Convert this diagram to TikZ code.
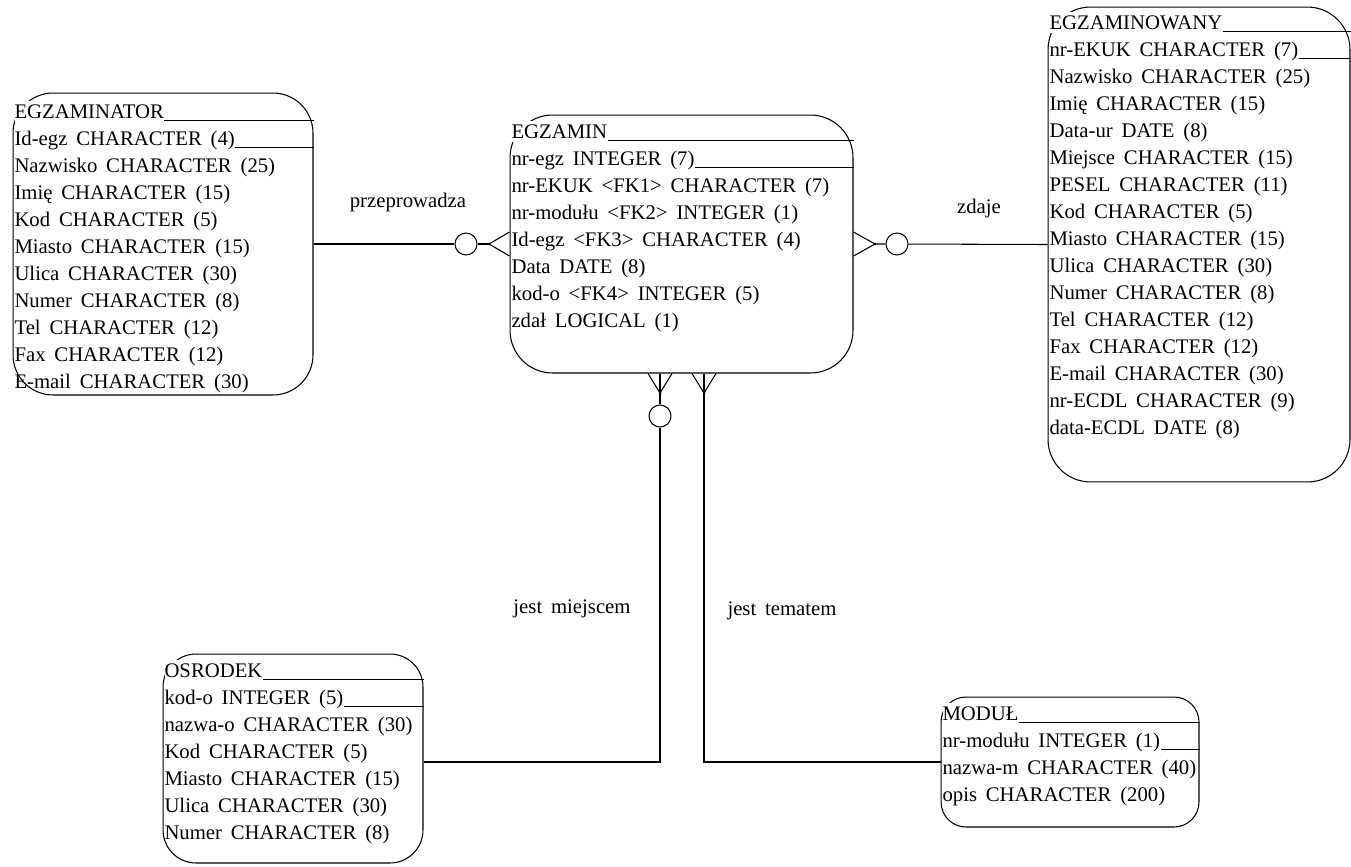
\documentclass[tikz,border=0pt]{standalone}
\usepackage{fontspec}
\setmainfont[WordSpace=1.7]{Liberation Serif}

\begin{document}
\begin{tikzpicture}[x=0.02cm, y=-0.02cm, line width=0.6pt,
    encja/.style={draw, rounded corners=0.8cm, inner sep=0},
    pole/.style={anchor=base west, inner sep=0, font=\fontsize{11.8}{14}\selectfont},
    naglowek/.style={pole, fill=white, inner ysep=2pt},
    kolko/.style={draw, circle, fill=white, inner sep=0, minimum size=0.44cm},
    etykieta/.style={inner sep=0, font=\fontsize{11.8}{14}\selectfont}]
    \useasboundingbox (0,0) rectangle (1351,866);

    \node[encja, minimum width=6cm, minimum height=6.04cm] (egzaminator) at (163,244) {};
    \node[naglowek] (tor0) at (14,118) {EGZAMINATOR};
    \foreach \t [count=\i] in {Id-egz CHARACTER (4), Nazwisko CHARACTER (25), Imię CHARACTER (15), Kod CHARACTER (5), Miasto CHARACTER (15), Ulica CHARACTER (30), Numer CHARACTER (8), Tel CHARACTER (12), Fax CHARACTER (12), E-mail CHARACTER (30)}
        \node[pole] (tor\i) at (14,{118+27*\i}) {\t};
    \draw ([yshift=-0.05cm]tor0.base east) -- ([yshift=-0.05cm]tor0.base east -| egzaminator.east);
    \draw ([yshift=-0.05cm]tor1.base east) -- ([yshift=-0.05cm]tor1.base east -| egzaminator.east);

    \node[encja, rounded corners=0.85cm, minimum width=6.86cm, minimum height=5.16cm] (egzamin) at (681.5,244) {};
    \node[naglowek] (min0) at (511,138) {EGZAMIN};
    \foreach \t [count=\i] in {nr-egz INTEGER (7), nr-EKUK <FK1> CHARACTER (7), nr-modułu <FK2> INTEGER (1), Id-egz <FK3> CHARACTER (4), Data DATE (8), kod-o <FK4> INTEGER (5), zdał LOGICAL (1)}
        \node[pole] (min\i) at (511,{138+27*\i}) {\t};
    \draw ([yshift=-0.05cm]min0.base east) -- ([yshift=-0.05cm]min0.base east -| egzamin.east);
    \draw ([yshift=-0.05cm]min1.base east) -- ([yshift=-0.05cm]min1.base east -| egzamin.east);

    \node[encja, rounded corners=0.85cm, minimum width=6.04cm, minimum height=9.5cm] (egzaminowany) at (1199,244.5) {};
    \node[naglowek] (wany0) at (1049,29) {EGZAMINOWANY};
    \foreach \t [count=\i] in {nr-EKUK CHARACTER (7), Nazwisko CHARACTER (25), Imię CHARACTER (15), Data-ur DATE (8), Miejsce CHARACTER (15), PESEL CHARACTER (11), Kod CHARACTER (5), Miasto CHARACTER (15), Ulica CHARACTER (30), Numer CHARACTER (8), Tel CHARACTER (12), Fax CHARACTER (12), E-mail CHARACTER (30), nr-ECDL CHARACTER (9), data-ECDL DATE (8)}
        \node[pole] (wany\i) at (1049,{29+27*\i}) {\t};
    \draw ([yshift=-0.05cm]wany0.base east) -- ([yshift=-0.05cm]wany0.base east -| egzaminowany.east);
    \draw ([yshift=-0.05cm]wany1.base east) -- ([yshift=-0.05cm]wany1.base east -| egzaminowany.east);

    \node[encja, rounded corners=0.66cm, minimum width=5.2cm, minimum height=4.18cm] (osrodek) at (293,758.5) {};
    \node[naglowek] (osr0) at (164,677) {OSRODEK};
    \foreach \t [count=\i] in {kod-o INTEGER (5), nazwa-o CHARACTER (30), Kod CHARACTER (5), Miasto CHARACTER (15), Ulica CHARACTER (30), Numer CHARACTER (8)}
        \node[pole] (osr\i) at (164,{677+27*\i}) {\t};
    \draw ([yshift=-0.05cm]osr0.base east) -- ([yshift=-0.05cm]osr0.base east -| osrodek.east);
    \draw ([yshift=-0.05cm]osr1.base east) -- ([yshift=-0.05cm]osr1.base east -| osrodek.east);

    \node[encja, rounded corners=0.5cm, minimum width=5.16cm, minimum height=2.6cm] (modul) at (1070,762) {};
    \node[naglowek] (mod0) at (942,720) {MODUŁ};
    \foreach \t [count=\i] in {nr-modułu INTEGER (1), nazwa-m CHARACTER (40), opis CHARACTER (200)}
        \node[pole] (mod\i) at (942,{720+27*\i}) {\t};
    \draw ([yshift=-0.05cm]mod0.base east) -- ([yshift=-0.05cm]mod0.base east -| modul.east);
    \draw ([yshift=-0.05cm]mod1.base east) -- ([yshift=-0.05cm]mod1.base east -| modul.east);

    \node[kolko] (k1) at (466,244) {};
    \coordinate (a1) at (489,244);
    \draw (egzaminator.east) -- (k1) -- (a1);
    \draw ([yshift=0.24cm]egzamin.west) -- (a1) -- ([yshift=-0.24cm]egzamin.west);
    \fill (a1) circle (1.5);

    \node[kolko] (k2) at (897,244) {};
    \coordinate (a2) at (875,244);
    \draw ([yshift=0.24cm]egzamin.east) -- (a2) -- ([yshift=-0.24cm]egzamin.east);
    \draw (a2) -- (k2) -- (egzaminowany.west);
    \fill (a2) circle (1.5);

    \node[kolko] (k3) at (660,416) {};
    \coordinate (a3) at (660,393);
    \coordinate (p3) at (660,762);
    \draw ([xshift=-0.24cm]a3 |- egzamin.south) -- (a3) -- ([xshift=0.24cm]a3 |- egzamin.south);
    \draw (a3 |- egzamin.south) -- (a3) -- (k3) -- (p3) -- (p3 -| osrodek.east);
    \fill (a3) circle (1.5);

    \coordinate (a4) at (704,393);
    \coordinate (p4) at (704,762);
    \draw ([xshift=-0.24cm]a4 |- egzamin.south) -- (a4) -- ([xshift=0.24cm]a4 |- egzamin.south);
    \draw (a4 |- egzamin.south) -- (a4) -- (p4) -- (p4 -| modul.west);
    \fill (a4) circle (1.5);

    \node[etykieta] (l1) at (408,203) {przeprowadza};
    \node[etykieta] (l2) at (979,209) {zdaje};
    \node[etykieta] (l3) at (572,609) {jest miejscem};
    \node[etykieta] (l4) at (782,611) {jest tematem};
\end{tikzpicture}
\end{document}
